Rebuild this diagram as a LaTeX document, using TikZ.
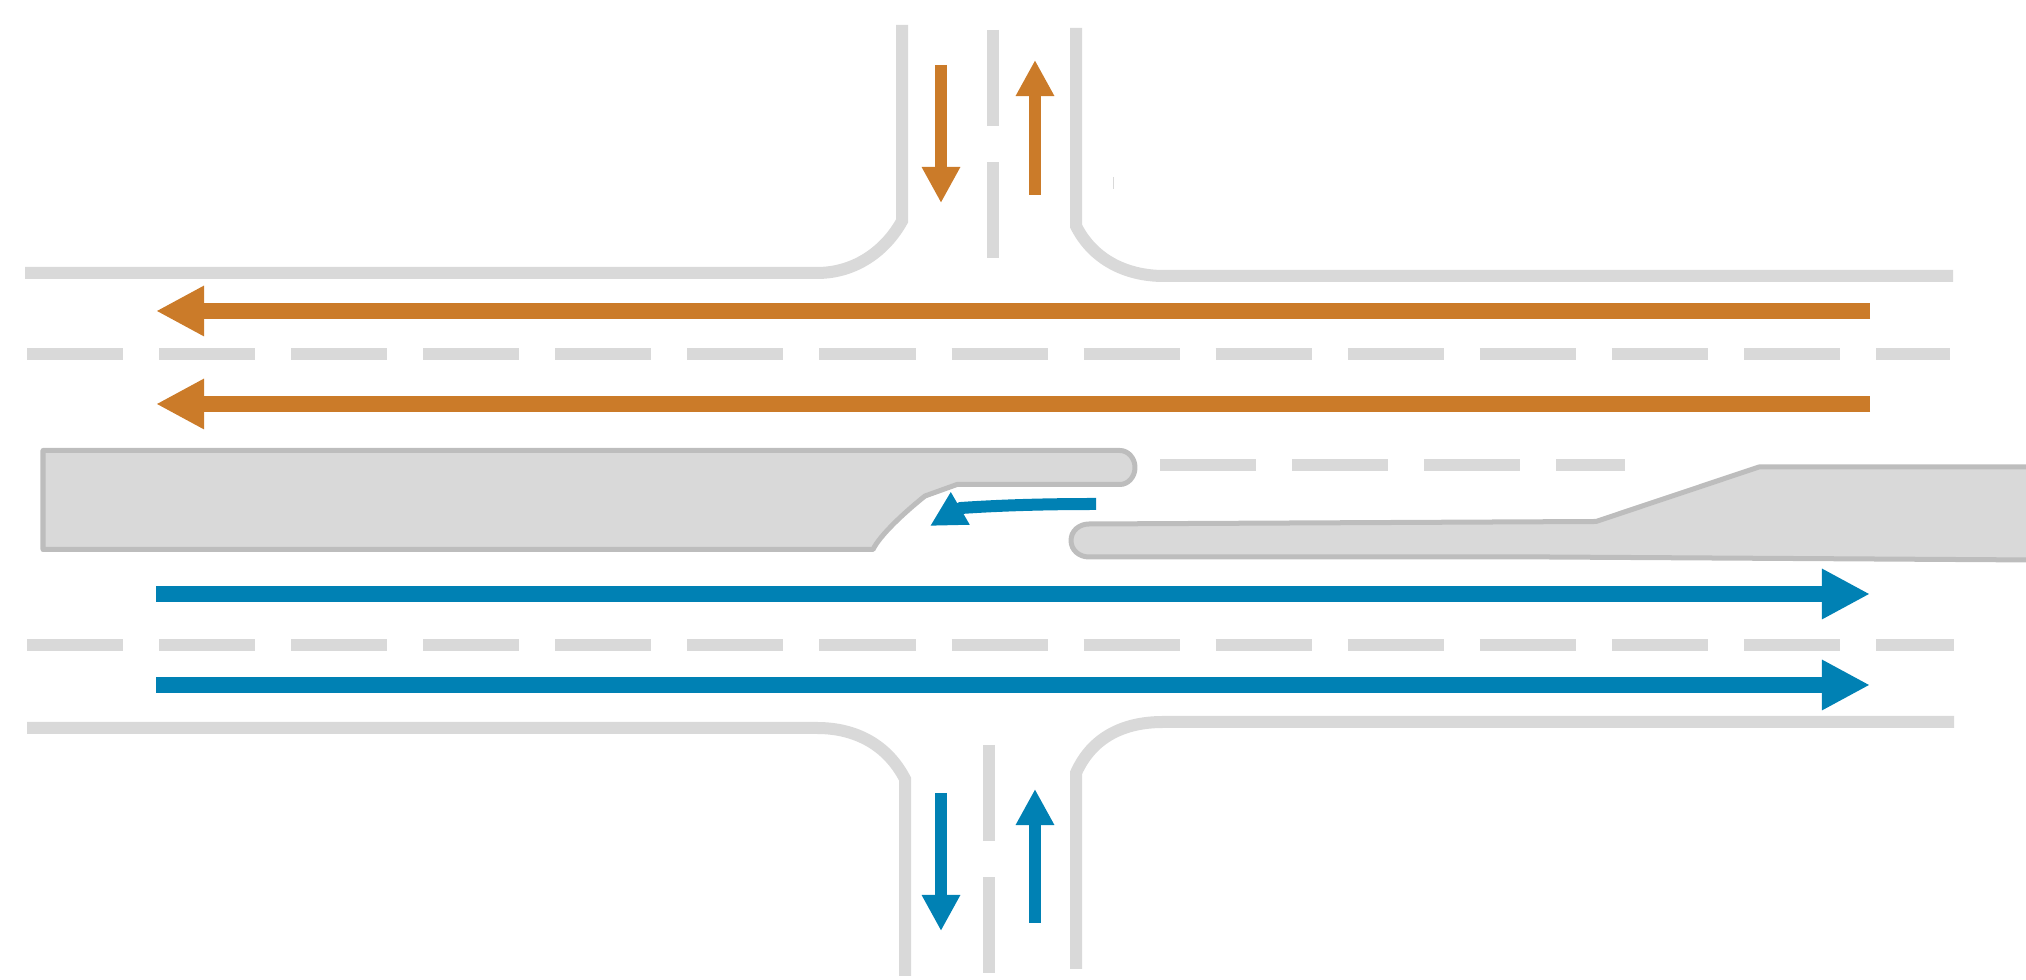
\documentclass[tikz,border=0pt]{standalone}
\usepackage{xcolor}
\usepackage{tikz}
\usetikzlibrary{arrows.meta}

\definecolor{roadgrey}{HTML}{D9D9D9}
\definecolor{islandedge}{HTML}{BDBDBD}
\definecolor{flowa}{HTML}{CB7B29}
\definecolor{flowb}{HTML}{0081B4}

\begin{document}
\begin{tikzpicture}[
    x=0.01cm, y=-0.01cm,
    kerb/.style={draw=roadgrey, line width=1.2mm},
    lanemark/.style={draw=roadgrey, line width=1.2mm, dash pattern=on 9.6mm off 3.6mm},
    island/.style={draw=islandedge, fill=roadgrey, line width=0.5mm, line join=round},
    mainarrow/.style={-{Triangle[length=4.8mm, width=4.7mm]}, line width=1.6mm},
    sidearrow/.style={-{Triangle[length=3.6mm, width=3.6mm]}, line width=1.2mm},
    turnarrow/.style={-{Triangle[length=3.5mm, width=3.5mm]}, line width=1.2mm}
]
    \useasboundingbox (0,0) rectangle (2026,980);

    % kerbs
    \draw [kerb] (25,273) -- (817,273) .. controls (856,273) and (886,250) .. (902,221) -- (902,25);
    \draw [kerb] (1953,276) -- (1164,276) .. controls (1124,276) and (1092,258) .. (1076,226) -- (1076,28);
    \draw [kerb] (27,728) -- (817,728) .. controls (857,728) and (888,746) .. (905,779) -- (905,976);
    \draw [kerb] (1954,722) -- (1163,722) .. controls (1124,722) and (1092,737) .. (1076,773) -- (1076,969);
    \draw [draw=roadgrey, line width=0.1mm] (1113,177) -- (1113,189);

    % lane markings
    \draw [lanemark] (27,354) -- (1950,354);
    \draw [lanemark] (27,645) -- (1954,645);
    \draw [lanemark] (1160,465) -- (1625,465);
    \draw [lanemark] (993,30) -- (993,258);
    \draw [lanemark] (989,745) -- (989,973);

    % islands
    \draw [island] (43,450.5) -- (1120,450.5) .. controls (1128,450.5) and (1135,458) .. (1135,467.5)
        .. controls (1135,477) and (1128,484.5) .. (1120,484.5) -- (957,484.5) -- (925,496)
        .. controls (905,512) and (880,535) .. (873,549.5) -- (43,549.5) -- cycle;
    \draw [island] (2035,467) -- (1759,467) -- (1596,521.5) -- (1089,524)
        .. controls (1079,524) and (1071,531) .. (1071,540.5)
        .. controls (1071,550) and (1079,557) .. (1089,557) -- (1548,557) -- (2035,560) -- cycle;

    % arrows
    \draw [mainarrow, draw=flowa] (1870,311) -- (156,311);
    \draw [mainarrow, draw=flowa] (1870,404) -- (156,404);
    \draw [mainarrow, draw=flowb] (156,594) -- (1870,594);
    \draw [mainarrow, draw=flowb] (156,685) -- (1870,685);

    \draw [sidearrow, draw=flowa] (941,65) -- (941,203);
    \draw [sidearrow, draw=flowa] (1035,195) -- (1035,60);
    \draw [sidearrow, draw=flowb] (941,793) -- (941,931);
    \draw [sidearrow, draw=flowb] (1035,923) -- (1035,789);

    \draw [turnarrow, draw=flowb] (1096,504) .. controls (1050,504) and (1005,505) .. (961,508) -- (930,526);
\end{tikzpicture}
\end{document}
